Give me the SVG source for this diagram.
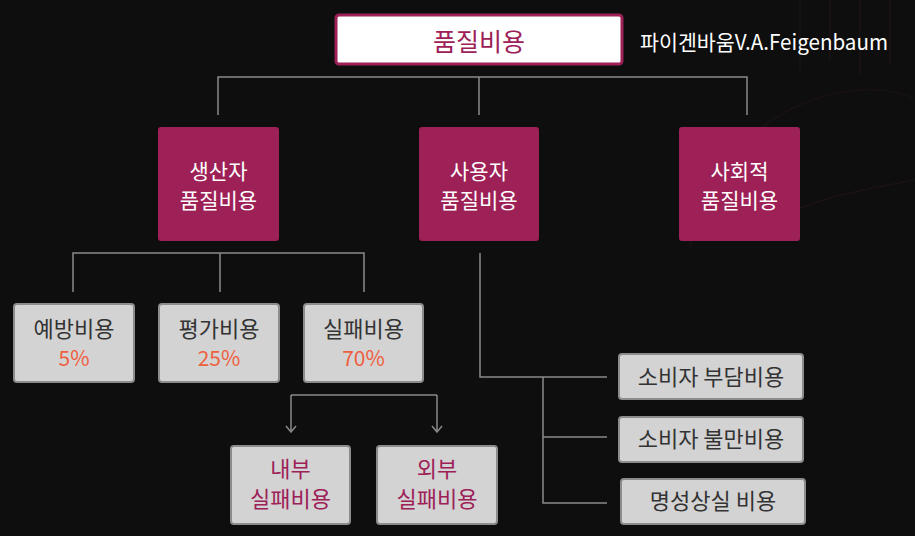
<svg xmlns="http://www.w3.org/2000/svg" width="915" height="536" viewBox="0 0 915 536">
  <defs>
    <style>
      .t{font-family:"Noto Sans CJK KR","Noto Sans",sans-serif;text-anchor:middle}
      .crim{fill:#9d2157;rx:3px}
      .gray{fill:#d3d3d3;stroke:#8c8c8c;stroke-width:2;rx:3px}
      .wt{fill:#ffffff;font-size:21px}
      .dk{fill:#333333;font-size:22px}
      .pc{fill:#ee5f3f;font-size:21px}
      .rd{fill:#9d2157;font-size:22px}
      .ln{stroke:#8a8a8a;stroke-width:1.5;fill:none}
      .deco{stroke:#3a1c28;stroke-width:1.2;fill:none;opacity:0.35}
    </style>
    <marker id="arrd" viewBox="0 0 12 8" refX="6" refY="7" markerWidth="12" markerHeight="8" markerUnits="userSpaceOnUse" orient="0">
      <path d="M1,1 L6,7 L11,1" stroke="#8a8a8a" stroke-width="1.5" fill="none"/>
    </marker>
  </defs>
  <rect width="915" height="536" fill="#0e0e0e"/>
  <g id="decoration">
    <path class="deco" d="M690,250 C700,160 780,95 860,90 C900,88 915,100 915,100"/>
    <path class="deco" d="M760,230 C800,200 860,190 915,180"/>
    <path class="deco" d="M800,0 L800,70 M830,0 L830,60 M860,0 L860,75 M890,0 L890,65"/>
  </g>
  <g id="connectors">
    <path class="ln" d="M218,115 V77 H747 V115 M479,77 V115"/>
    <path class="ln" d="M73,292 V253 H364 V292 M220,253 V292"/>
    <path class="ln" d="M291,395 H437"/>
    <path class="ln" d="M291,395 V432" marker-end="url(#arrd)"/>
    <path class="ln" d="M437,395 V432" marker-end="url(#arrd)"/>
    <path class="ln" d="M480,253 V377 H607 M543,377 V503 H607 M543,437 H607"/>
  </g>
  <g id="n-top">
    <rect x="336" y="15" width="286" height="49" rx="3" fill="#ffffff" stroke="#9d2157" stroke-width="3"/>
    <text class="t" x="479" y="51" fill="#9d2157" font-size="25">품질비용</text>
  </g>
  <g id="n-author">
    <text x="640" y="50" fill="#ffffff" font-size="21" font-family="Noto Sans CJK KR, Noto Sans, sans-serif" textLength="248" lengthAdjust="spacingAndGlyphs">파이겐바움V.A.Feigenbaum</text>
  </g>
  <g id="n-producer">
    <rect class="crim" x="158" y="127" width="121" height="114"/>
    <text class="t wt" x="218.5" y="179">생산자</text>
    <text class="t wt" x="218.5" y="208">품질비용</text>
  </g>
  <g id="n-user">
    <rect class="crim" x="419" y="127" width="120" height="114"/>
    <text class="t wt" x="479" y="179">사용자</text>
    <text class="t wt" x="479" y="208">품질비용</text>
  </g>
  <g id="n-social">
    <rect class="crim" x="679" y="127" width="121" height="114"/>
    <text class="t wt" x="739.5" y="179">사회적</text>
    <text class="t wt" x="739.5" y="208">품질비용</text>
  </g>
  <g id="n-prevention">
    <rect class="gray" x="14" y="304" width="120" height="78"/>
    <text class="t dk" x="74" y="337">예방비용</text>
    <text class="t pc" x="74" y="366">5%</text>
  </g>
  <g id="n-appraisal">
    <rect class="gray" x="159" y="304" width="120" height="78"/>
    <text class="t dk" x="219" y="337">평가비용</text>
    <text class="t pc" x="219" y="366">25%</text>
  </g>
  <g id="n-failure">
    <rect class="gray" x="304" y="304" width="119" height="78"/>
    <text class="t dk" x="363.5" y="337">실패비용</text>
    <text class="t pc" x="363.5" y="366">70%</text>
  </g>
  <g id="n-internal">
    <rect class="gray" x="231" y="446" width="119" height="78"/>
    <text class="t rd" x="290.5" y="477">내부</text>
    <text class="t rd" x="290.5" y="507">실패비용</text>
  </g>
  <g id="n-external">
    <rect class="gray" x="377" y="446" width="120" height="78"/>
    <text class="t rd" x="437" y="477">외부</text>
    <text class="t rd" x="437" y="507">실패비용</text>
  </g>
  <g id="n-burden">
    <rect class="gray" x="619" y="354" width="184" height="45"/>
    <text class="t dk" x="711" y="385">소비자 부담비용</text>
  </g>
  <g id="n-dissatisfaction">
    <rect class="gray" x="619" y="417" width="184" height="45"/>
    <text class="t dk" x="711" y="447">소비자 불만비용</text>
  </g>
  <g id="n-reputation">
    <rect class="gray" x="621" y="479" width="184" height="45"/>
    <text class="t dk" x="713" y="509">명성상실 비용</text>
  </g>
</svg>
